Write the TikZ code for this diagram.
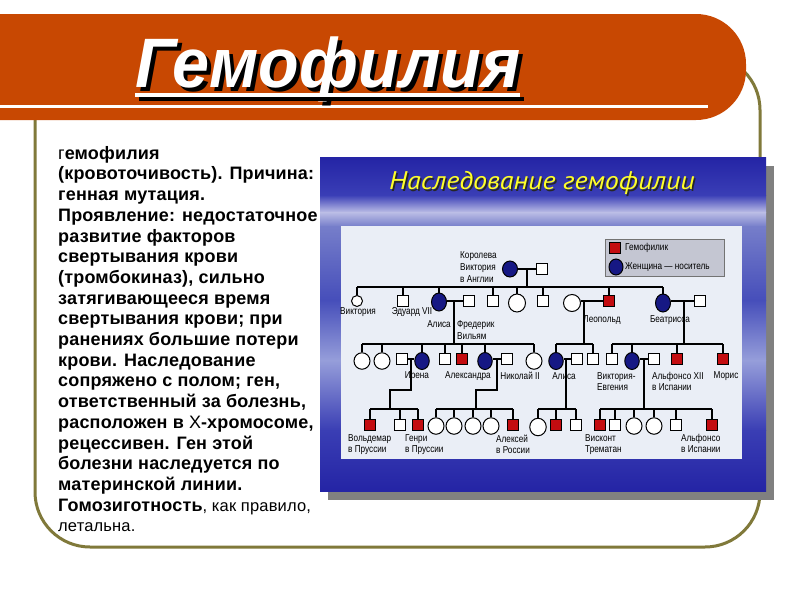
\documentclass[tikz,border=0pt]{standalone}
\usepackage{fontspec}
\setmainfont{Liberation Sans}
\newfontfamily\bodyfont[LetterSpace=1]{Liberation Sans}
\newfontfamily\titlefont[FakeStretch=0.95]{Liberation Sans}
\newfontfamily\subfont[FakeStretch=1.1]{PT Sans}
\newfontfamily\pedfont[FakeStretch=0.82]{Liberation Sans}
\usetikzlibrary{shapes.geometric}
\definecolor{barorange}{RGB}{200,72,2}
\definecolor{frameolive}{RGB}{128,121,58}
\definecolor{shadowgray}{RGB}{128,128,128}
\definecolor{bA}{RGB}{36,36,165}
\definecolor{bB}{RGB}{58,62,182}
\definecolor{bC}{RGB}{188,190,230}
\definecolor{bD}{RGB}{118,126,202}
\definecolor{bE}{RGB}{70,78,186}
\definecolor{bF}{RGB}{150,158,218}
\definecolor{bG}{RGB}{58,62,180}
\definecolor{panelbg}{RGB}{234,238,246}
\definecolor{legendgray}{RGB}{196,198,210}
\definecolor{hemored}{RGB}{195,12,16}
\definecolor{carrierblue}{RGB}{22,24,132}
\definecolor{subyellow}{RGB}{255,255,40}
\begin{document}
\begin{tikzpicture}[x=1pt,y=-1pt,
  sym/.style={draw=black, line width=1pt, inner sep=0pt, fill=white},
  msq/.style={sym, rectangle, minimum size=10.5pt},
  hsq/.style={msq, fill=hemored},
  fcirc/.style={sym, ellipse, minimum width=16pt, minimum height=16.5pt},
  carr/.style={fcirc, fill=carrierblue, minimum width=14.5pt, minimum height=17pt},
  lbl/.style={font=\pedfont\fontsize{10}{11}\selectfont, inner sep=0pt, align=left, text=black},
  link/.style={line width=1.1pt, black},
  titlestyle/.style={font=\titlefont\bfseries\itshape\fontsize{70}{70}\selectfont, inner sep=0pt},
  subtitle/.style={font=\subfont\itshape\fontsize{25.5}{25.5}\selectfont, inner sep=0pt},
  bodytext/.style={font=\bodyfont\bfseries\fontsize{18}{20.7}\selectfont, inner sep=0pt, align=left, text=black}
]
\useasboundingbox (0,0) rectangle (800,600);
\fill[white] (0,0) rectangle (800,600);
% frame
\draw[frameolive, line width=3pt, rounded corners=55pt] (35,55) rectangle (760,547);
% title bar
\fill[barorange, rounded corners=50pt] (-80,14) rectangle (746,120);
\draw[white, line width=3pt] (-5,106) -- (708,106);
% title
\node[titlestyle, text=black, anchor=base west] (titlesh) at (139,91) {Гемофилия};
\node[titlestyle, text=white, anchor=base west] (title) at (135,87) {Гемофилия};
\draw[black, line width=3.5pt] ([xshift=4pt,yshift=-12pt]title.base west) -- ([xshift=4pt,yshift=-12pt]title.base east);
\draw[white, line width=3.5pt] ([yshift=-8pt]title.base west) -- ([yshift=-8pt]title.base east);
% body text
\node[bodytext, anchor=north west] (body) at (58,146) {{\mdseries г}емофилия\\
(кровоточивость). Причина:\\
генная мутация.\\
Проявление: недостаточное\\
развитие факторов\\
свертывания крови\\
(тромбокиназ), сильно\\
затягивающееся время\\
свертывания крови; при\\
ранениях большие потери\\
крови. Наследование\\
сопряжено с полом; ген,\\
ответственный за болезнь,\\
расположен в {\mdseries Х}-хромосоме,\\
рецессивен. Ген этой\\
болезни наследуется по\\
материнской линии.\\
Гомозиготность{\mdseries\fontsize{16.5}{20.7}\selectfont, как правило,}\\
{\mdseries\fontsize{16.5}{20.7}\selectfont летальна.}};
% picture
\fill[shadowgray] (328,166) rectangle (774,500);
\shade[top color=bA, bottom color=bB] (320,157) rectangle (766,195.5);
\shade[top color=bB, bottom color=bC] (320,195) rectangle (766,212.5);
\shade[top color=bC, bottom color=bD] (320,212) rectangle (766,226.5);
\shade[top color=bD, bottom color=bE] (320,226) rectangle (766,300.5);
\shade[top color=bE, bottom color=bF] (320,300) rectangle (766,360.5);
\shade[top color=bF, bottom color=bG] (320,360) rectangle (766,430.5);
\shade[top color=bG, bottom color=bA] (320,430) rectangle (766,491);
\node[subtitle, text=black!85] (subsh) at (543.5,184.5) {Наследование гемофилии};
\node[subtitle, text=subyellow] (sub) at (542,183) {Наследование гемофилии};
\fill[panelbg] (341,226) rectangle (742,459);
% legend
\node[draw=black!55, line width=0.8pt, fill=legendgray, minimum width=119pt, minimum height=37pt, inner sep=0pt, anchor=north west] (leg) at (605,239) {};
\node[hsq] (legR) at (615,248) {};
\node[carr, minimum width=14pt, minimum height=16pt] (legB) at (616,267) {};
\node[lbl, anchor=west] (legRt) at (625,248) {Гемофилик};
\node[lbl, anchor=west] (legBt) at (625,267) {Женщина — носитель};
% generation I
\node[carr, minimum width=15pt, minimum height=16pt] (QV) at (510,269) {};
\node[msq] (QA) at (542,269) {};
\draw[link] (QV.east) -- (QA.west);
\coordinate (m1) at (527,269);
\coordinate (s2L) at (357,287);
\coordinate (s2R) at (663,287);
\draw[link] (m1) -- (m1 |- s2L);
\draw[link] (s2L) -- (s2R);
\node[lbl, anchor=north west, font=\pedfont\fontsize{10}{12}\selectfont] (lQV) at (460,251) {Королева\\Виктория\\в Англии};
% generation II
\node[fcirc, minimum width=11pt, minimum height=11pt] (g2a) at (357,301) {};
\node[msq] (g2b) at (403,301) {};
\node[carr, minimum width=15pt, minimum height=18pt] (g2c) at (439,302) {};
\node[msq] (g2ch) at (469,301) {};
\node[msq] (g2d) at (493,301) {};
\node[fcirc, minimum width=17pt, minimum height=18pt] (g2e) at (517,303) {};
\node[msq] (g2f) at (543,301) {};
\node[fcirc, minimum width=17pt, minimum height=17pt] (g2gw) at (572,303) {};
\node[hsq] (g2g) at (609,301) {};
\node[carr, minimum width=15pt, minimum height=18pt] (g2h) at (663,303) {};
\node[msq] (g2hh) at (700,301) {};
\foreach \n in {g2a,g2b,g2c,g2d,g2e,g2f,g2g,g2h} \draw[link] (\n.north) -- (\n.north |- s2L);
\draw[link] (g2c.east |- g2ch) -- (g2ch.west);
\draw[link] (g2gw.east |- g2g) -- (g2g.west);
\draw[link] (g2h.east |- g2hh) -- (g2hh.west);
\node[lbl] (lg2a) at (358,312) {Виктория};
\node[lbl] (lg2b) at (412,312) {Эдуард VII};
\node[lbl] (lg2c) at (439,324) {Алиса};
\node[lbl, anchor=north west, font=\pedfont\fontsize{10}{12}\selectfont] (lg2ch) at (457,320) {Фредерик\\Вильям};
\node[lbl] (lg2g) at (602,320) {Леопольд};
\node[lbl] (lg2h) at (670,320) {Беатрисса};
% generation III
\coordinate (d2c) at (454,301);
\coordinate (d2g) at (584,301);
\coordinate (d2h) at (684,301);
\coordinate (s3a) at (362,344);
\coordinate (s3aR) at (534,344);
\coordinate (s3b) at (556,344);
\coordinate (s3bR) at (593,344);
\coordinate (s3c) at (612,344);
\coordinate (s3cR) at (723,344);
\draw[link] (d2c) -- (d2c |- s3a);
\draw[link] (d2g) -- (d2g |- s3a);
\draw[link] (d2h) -- (d2h |- s3a);
\draw[link] (s3a) -- (s3aR);
\draw[link] (s3b) -- (s3bR);
\draw[link] (s3c) -- (s3cR);
\node[fcirc] (g3a) at (362,361) {};
\node[fcirc] (g3b) at (382,361) {};
\node[msq] (g3ch) at (402,359) {};
\node[carr] (g3c) at (422,361) {};
\node[msq] (g3d) at (445,359) {};
\node[hsq] (g3e) at (462,359) {};
\node[carr] (g3f) at (485,361) {};
\node[msq] (g3fh) at (507,359) {};
\node[fcirc] (g3g) at (534,361) {};
\node[carr] (g3h) at (556,361) {};
\node[msq] (g3hh) at (577,359) {};
\node[msq] (g3i) at (593,359) {};
\node[msq] (g3j) at (612,359) {};
\node[carr] (g3k) at (632,361) {};
\node[msq] (g3kh) at (654,359) {};
\node[hsq] (g3l) at (677,359) {};
\node[hsq] (g3m) at (723,359) {};
\foreach \n in {g3a,g3b,g3c,g3d,g3e,g3f,g3g,g3h,g3i,g3j,g3k,g3l,g3m} \draw[link] (\n.north) -- (\n.north |- s3a);
\draw[link] (g3ch.east) -- (g3c.west |- g3ch);
\draw[link] (g3f.east |- g3fh) -- (g3fh.west);
\draw[link] (g3h.east |- g3hh) -- (g3hh.west);
\draw[link] (g3k.east |- g3kh) -- (g3kh.west);
\node[lbl] (lg3c) at (417,376) {Ирена};
\node[lbl] (lg3f) at (468,376) {Александра};
\node[lbl] (lg3fh) at (520,376) {Николай II};
\node[lbl] (lg3h) at (564,376) {Алиса};
\node[lbl, anchor=north west] (lg3k) at (597,372) {Виктория-\\Евгения};
\node[lbl, anchor=north west] (lg3kh) at (652,372) {Альфонсо XII\\в Испании};
\node[lbl] (lg3m) at (726,376) {Морис};
% generation IV
\coordinate (d3c) at (411,359);
\coordinate (j3c) at (390,390);
\coordinate (d3f) at (497,359);
\coordinate (j3f) at (476,390);
\coordinate (d3h) at (566,359);
\coordinate (d3k) at (644,359);
\coordinate (s4a) at (370,409);
\coordinate (s4aR) at (418,409);
\coordinate (s4b) at (436,409);
\coordinate (s4bR) at (513,409);
\coordinate (s4c) at (538,409);
\coordinate (s4cR) at (576,409);
\coordinate (s4d) at (600,409);
\coordinate (s4dR) at (712,409);
\draw[link] (d3c) |- (j3c) -- (j3c |- s4a);
\draw[link] (d3f) |- (j3f) -- (j3f |- s4a);
\draw[link] (d3h) -- (d3h |- s4a);
\draw[link] (d3k) -- (d3k |- s4a);
\draw[link] (s4a) -- (s4aR);
\draw[link] (s4b) -- (s4bR);
\draw[link] (s4c) -- (s4cR);
\draw[link] (s4d) -- (s4dR);
\node[hsq] (g4a) at (370,425) {};
\node[msq] (g4b) at (400,425) {};
\node[hsq] (g4c) at (418,425) {};
\node[fcirc] (g4d) at (436,426) {};
\node[fcirc] (g4e) at (454,426) {};
\node[fcirc] (g4f) at (473,426) {};
\node[fcirc] (g4g) at (491,426) {};
\node[hsq] (g4h) at (513,425) {};
\node[fcirc, minimum width=16.5pt, minimum height=17.5pt] (g4i) at (538,427) {};
\node[hsq] (g4j) at (556,425) {};
\node[msq] (g4k) at (576,425) {};
\node[hsq] (g4l) at (600,425) {};
\node[msq] (g4m) at (615,425) {};
\node[fcirc] (g4n) at (634,426) {};
\node[fcirc] (g4o) at (654,426) {};
\node[msq] (g4p) at (676,425) {};
\node[hsq] (g4q) at (712,425) {};
\foreach \n in {g4a,g4b,g4c,g4d,g4e,g4f,g4g,g4h,g4i,g4j,g4k,g4l,g4m,g4n,g4o,g4p,g4q} \draw[link] (\n.north) -- (\n.north |- s4a);
\node[lbl, anchor=north west] (lg4a) at (348,434.5) {Вольдемар\\в Пруссии};
\node[lbl, anchor=north west] (lg4c) at (405,434.5) {Генри\\в Пруссии};
\node[lbl, anchor=north west] (lg4h) at (496,434.5) {Алексей\\в России};
\node[lbl, anchor=north west] (lg4l) at (585,434.5) {Висконт\\Трематан};
\node[lbl, anchor=north west] (lg4q) at (681,434.5) {Альфонсо\\в Испании};
\end{tikzpicture}
\end{document}
